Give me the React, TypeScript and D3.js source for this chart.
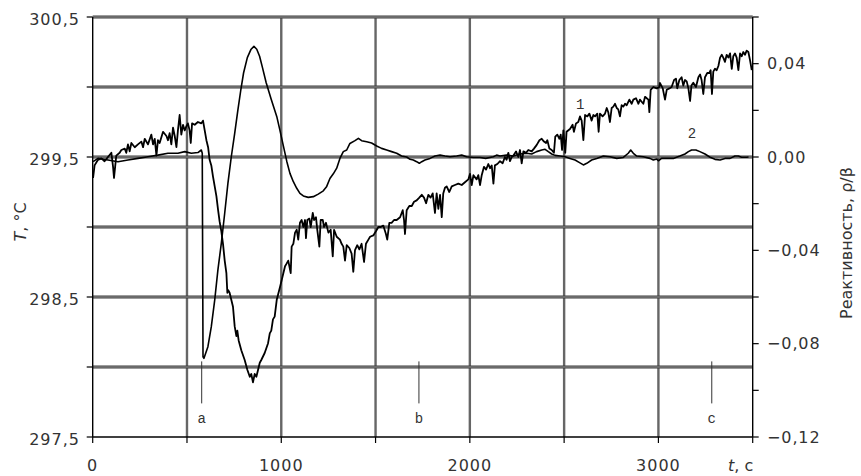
import React from "react";
import * as d3 from "d3";

// Curve 1: temperature T (°C) vs time t (s)
const curve1: [number, number][] = [
[2,299.35],[10,299.44],[28,299.48],[46,299.49],[63,299.47],[81,299.50],[99,299.53],[108,299.43],[113,299.35],[125,299.51],[143,299.53],[152,299.55],[170,299.56],[178,299.53],[187,299.59],[196,299.54],[205,299.60],[223,299.57],[240,299.59],[258,299.61],[267,299.57],[276,299.63],[293,299.59],[311,299.66],[320,299.59],[329,299.63],[338,299.51],[346,299.62],[355,299.60],[373,299.68],[391,299.65],[399,299.62],[408,299.67],[417,299.59],[426,299.71],[435,299.65],[444,299.57],[452,299.69],[461,299.80],[470,299.66],[479,299.73],[488,299.69],[497,299.72],[505,299.74],[514,299.69],[520,299.60],[527,299.74],[541,299.73],[558,299.75],[576,299.74],[585,299.76],[594,299.69],[603,299.62],[612,299.57],[620,299.48],[629,299.44],[638,299.36],[647,299.29],[656,299.22],[665,299.12],[673,299.04],[682,298.97],[691,298.88],[700,298.76],[709,298.67],[714,298.53],[718,298.55],[726,298.53],[735,298.48],[744,298.43],[753,298.29],[762,298.22],[767,298.26],[774,298.19],[788,298.12],[806,298.05],[820,297.98],[833,297.93],[841,297.95],[850,297.89],[859,297.95],[868,297.93],[877,297.98],[886,298.03],[894,298.05],[912,298.10],[930,298.17],[939,298.24],[947,298.26],[956,298.34],[965,298.36],[976,298.48],[993,298.57],[1011,298.67],[1020,298.72],[1029,298.74],[1037,298.76],[1050,298.67],[1055,298.86],[1064,298.88],[1073,298.96],[1082,298.98],[1090,298.91],[1099,299.03],[1108,299.05],[1117,299.00],[1126,299.05],[1131,298.92],[1138,299.05],[1149,299.06],[1156,299.00],[1167,299.10],[1174,299.05],[1184,299.07],[1191,298.98],[1202,298.86],[1209,299.05],[1220,299.05],[1227,299.00],[1237,299.03],[1250,298.96],[1262,298.98],[1273,298.79],[1280,298.98],[1294,298.93],[1311,298.91],[1320,298.88],[1329,298.86],[1338,298.76],[1347,298.87],[1361,298.85],[1373,298.81],[1382,298.68],[1391,298.835],[1403,298.87],[1414,298.84],[1426,298.88],[1439,298.75],[1449,298.88],[1462,298.91],[1471,298.93],[1488,298.94],[1502,298.97],[1515,299.00],[1527,299.00],[1541,299.01],[1555,298.95],[1562,298.91],[1573,299.03],[1585,299.03],[1598,299.05],[1612,299.05],[1630,299.07],[1644,299.12],[1651,299.05],[1656,298.95],[1665,299.12],[1679,299.15],[1692,299.15],[1704,299.18],[1718,299.19],[1732,299.21],[1745,299.23],[1757,299.21],[1768,299.17],[1780,299.23],[1792,299.21],[1803,299.24],[1815,299.10],[1824,299.24],[1833,299.13],[1842,299.23],[1851,299.07],[1859,299.24],[1868,299.28],[1877,299.29],[1891,299.25],[1904,299.29],[1921,299.30],[1939,299.31],[1957,299.30],[1974,299.32],[1992,299.34],[2001,299.38],[2010,299.30],[2019,299.37],[2036,299.34],[2045,299.37],[2054,299.30],[2063,299.37],[2075,299.43],[2086,299.41],[2098,299.45],[2107,299.42],[2116,299.44],[2125,299.31],[2133,299.44],[2146,299.45],[2160,299.47],[2174,299.455],[2186,299.50],[2195,299.48],[2204,299.53],[2213,299.47],[2222,299.50],[2231,299.51],[2245,299.54],[2257,299.50],[2266,299.55],[2275,299.455],[2284,299.54],[2298,299.53],[2310,299.55],[2328,299.54],[2340,299.56],[2354,299.585],[2369,299.62],[2381,299.63],[2393,299.61],[2404,299.60],[2411,299.62],[2422,299.56],[2434,299.55],[2446,299.53],[2453,299.645],[2464,299.66],[2475,299.63],[2482,299.66],[2489,299.55],[2496,299.69],[2506,299.53],[2513,299.68],[2531,299.70],[2545,299.73],[2552,299.68],[2563,299.74],[2575,299.75],[2584,299.79],[2593,299.76],[2602,299.62],[2611,299.80],[2623,299.79],[2634,299.81],[2646,299.76],[2655,299.80],[2664,299.79],[2676,299.81],[2683,299.68],[2690,299.81],[2704,299.79],[2717,299.81],[2726,299.85],[2734,299.82],[2743,299.75],[2752,299.85],[2761,299.86],[2770,299.88],[2779,299.85],[2787,299.84],[2796,299.79],[2805,299.87],[2814,299.86],[2823,299.88],[2832,299.87],[2846,299.91],[2858,299.88],[2867,299.91],[2881,299.92],[2894,299.88],[2902,299.91],[2911,299.895],[2920,299.88],[2929,299.93],[2938,299.92],[2947,299.91],[2952,299.82],[2959,299.98],[2973,300.00],[2991,299.99],[3005,300.00],[3008,300.03],[3023,299.99],[3035,299.91],[3044,299.98],[3058,299.99],[3070,300.00],[3083,300.05],[3093,300.06],[3100,299.99],[3111,300.05],[3123,300.07],[3132,300.01],[3141,300.05],[3150,300.04],[3159,299.99],[3168,299.90],[3175,300.01],[3185,300.03],[3199,300.00],[3212,300.07],[3221,300.09],[3229,300.05],[3238,299.95],[3247,300.07],[3259,300.10],[3270,300.10],[3277,300.12],[3284,299.95],[3291,300.11],[3300,300.13],[3309,300.12],[3318,300.15],[3327,300.21],[3336,300.23],[3344,300.21],[3353,300.18],[3362,300.23],[3371,300.21],[3380,300.24],[3389,300.13],[3397,300.22],[3406,300.24],[3415,300.21],[3424,300.12],[3433,300.24],[3442,300.22],[3450,300.25],[3459,300.23],[3468,300.26],[3477,300.25],[3486,300.19],[3495,300.12]
];

// Curve 2: reactivity rho/beta vs time t (s)
const curve2: [number, number][] = [
[2,-0.002],[28,-0.0006],[81,-0.0013],[134,-0.002],[187,-0.0013],[240,-0.0006],[293,0.0001],[346,0.0008],[399,0.0016],[452,0.0016],[488,0.0023],[523,0.0016],[558,0.0019],[576,0.003],[581,0.0016],[585,-0.0856],[590,-0.0863],[611,-0.0813],[629,-0.0727],[647,-0.0613],[664,-0.0484],[682,-0.037],[700,-0.0241],[717,-0.0113],[735,0.0001],[753,0.0101],[770,0.0202],[785,0.0285],[800,0.036],[820,0.0426],[840,0.0462],[855,0.0474],[870,0.0462],[885,0.0432],[900,0.0384],[920,0.0318],[947,0.0246],[976,0.0174],[993,0.0114],[1011,0.0048],[1029,-0.0018],[1046,-0.007],[1064,-0.0106],[1082,-0.0134],[1099,-0.0156],[1117,-0.0167],[1143,-0.0173],[1170,-0.017],[1196,-0.0159],[1223,-0.0145],[1241,-0.0126],[1258,-0.0092],[1276,-0.0072],[1294,-0.0048],[1311,-0.0006],[1329,0.0023],[1347,0.003],[1364,0.0058],[1391,0.007],[1409,0.008],[1426,0.007],[1453,0.0065],[1479,0.006],[1506,0.0047],[1532,0.0037],[1559,0.003],[1585,0.0023],[1612,0.0016],[1638,0.0004],[1665,0],[1683,-0.001],[1700,-0.0013],[1718,-0.002],[1732,-0.0027],[1745,-0.002],[1762,-0.0013],[1789,-0.0006],[1815,0.0004],[1842,0.0008],[1868,0.0004],[1895,0.0001],[1930,0.0004],[1957,0.0008],[1983,0.0001],[2019,-0.0002],[2054,-0.0002],[2084,-0.0006],[2125,0.0001],[2142,0.0008],[2160,0.0004],[2195,0.0008],[2231,0.0004],[2266,0.0013],[2301,0.0016],[2328,0.0013],[2354,0.0023],[2381,0.003],[2399,0.0033],[2416,0.0023],[2434,0.0013],[2452,0.0007],[2478,0.0004],[2505,0.0001],[2531,-0.0006],[2558,-0.0013],[2584,-0.0025],[2602,-0.0034],[2620,-0.0027],[2646,-0.0013],[2673,-0.0006],[2708,0.0004],[2743,0.0001],[2779,-0.0006],[2814,-0.0002],[2840,0.0016],[2853,0.003],[2867,0.0016],[2885,0.0004],[2920,0.0001],[2955,-0.0006],[2973,-0.0013],[2991,-0.0009],[3000,-0.0016],[3017,-0.0006],[3044,-0.0006],[3079,-0.0006],[3114,0.0004],[3141,0.0013],[3159,0.0023],[3176,0.003],[3199,0.003],[3220,0.0023],[3247,0.0013],[3274,-0.0001],[3300,-0.001],[3327,-0.0013],[3353,-0.0006],[3380,-0.0006],[3406,0.0004],[3424,0.0004],[3441,-0.0001],[3468,-0.0001],[3478,0]
];

const timeTicks = [0, 500, 1000, 1500, 2000, 2500, 3000, 3500];
const timeLabels = [0, 1000, 2000, 3000];
const tempTicks = [297.5, 298, 298.5, 299, 299.5, 300, 300.5];
const tempLabels = [297.5, 298.5, 299.5, 300.5];
const rhoTicks = [-0.12, -0.1, -0.08, -0.06, -0.04, -0.02, 0, 0.02, 0.04, 0.06];
const rhoLabels = [-0.12, -0.08, -0.04, 0, 0.04];
const markers = [
  { t: 578, label: "a" },
  { t: 1730, label: "b" },
  { t: 3283, label: "c" },
];
const markerTop = 298.04;
const markerBottom = 297.74;
const curveLabels = [
  { t: 2585, T: 299.88, label: "1" },
  { t: 3178, T: 299.67, label: "2" },
];

const W = 861, H = 476;
const L = 92.7, R = 752.7, TOP = 17, BOT = 437;

const x = d3.scaleLinear().domain([0, 3500]).range([L, R]);
const yT = d3.scaleLinear().domain([297.5, 300.5]).range([BOT, TOP]);
const yR = d3.scaleLinear().domain([-0.12, 0.06]).range([BOT, TOP]);

const fmtT = (v: number) => d3.format(".1f")(v).replace(".", ",");
const fmtR = (v: number) => {
  const s = Math.abs(v).toFixed(2).replace(".", ",");
  return v < -1e-9 ? "\u2212" + s : s;
};

const sans = "'DejaVu Sans', sans-serif";
const mono = "'Liberation Mono', 'Courier New', monospace";

export default function App() {
  const line1 = d3.line<[number, number]>().x(d => x(d[0])).y(d => yT(d[1]))(curve1) || "";
  const line2 = d3.line<[number, number]>().x(d => x(d[0])).y(d => yR(d[1]))(curve2) || "";
  const hGrid = tempTicks.filter(v => v > 297.5);
  const vGrid = timeTicks.filter(v => v > 0 && v < 3500);
  return (
    <svg width={W} height={H} style={{ position: "absolute", left: 0, top: 0, background: "#fff" }}>
      {/* vertical grid */}
      {vGrid.map(v => (
        <line key={"v" + v} x1={x(v)} x2={x(v)} y1={TOP} y2={BOT} stroke="#666" strokeWidth={2.4} />
      ))}
      {/* horizontal grid (double band) */}
      {hGrid.map(v => (
        <g key={"h" + v}>
          <line x1={L} x2={R} y1={yT(v)} y2={yT(v)} stroke="#3a3a3a" strokeWidth={3} />
          <line x1={L} x2={R} y1={yT(v)} y2={yT(v)} stroke="#9a9a9a" strokeWidth={1} />
        </g>
      ))}
      {/* frame */}
      <line x1={L} x2={L} y1={TOP} y2={BOT} stroke="#000" strokeWidth={1.4} />
      <line x1={R} x2={R} y1={TOP} y2={BOT} stroke="#000" strokeWidth={1.4} />
      <line x1={L} x2={R} y1={BOT} y2={BOT} stroke="#000" strokeWidth={1.6} />
      {/* ticks */}
      {tempTicks.map(v => (
        <line key={"lt" + v} x1={L - 6} x2={L} y1={yT(v)} y2={yT(v)} stroke="#000" strokeWidth={1.2} />
      ))}
      {rhoTicks.map(v => (
        <line key={"rt" + v} x1={R} x2={R + 6} y1={yR(v)} y2={yR(v)} stroke="#000" strokeWidth={1.2} />
      ))}
      {timeTicks.map(v => (
        <line key={"bt" + v} x1={x(v)} x2={x(v)} y1={BOT} y2={BOT + 6} stroke="#000" strokeWidth={1.2} />
      ))}
      {/* tick labels */}
      {tempLabels.map(v => (
        <text key={"ll" + v} x={80} y={yT(v) + 2} dy="0.36em" textAnchor="end" fontFamily={sans} fontSize={16} letterSpacing={1} fill="#333">{fmtT(v)}</text>
      ))}
      {rhoLabels.map(v => (
        <text key={"rl" + v} x={767} y={yR(v)} dy="0.36em" textAnchor="start" fontFamily={sans} fontSize={16} letterSpacing={0.9} fill="#333">{fmtR(v)}</text>
      ))}
      {timeLabels.map(v => (
        <text key={"bl" + v} x={x(v)} y={471} textAnchor="middle" fontFamily={sans} fontSize={16} letterSpacing={1} fill="#333">{String(v)}</text>
      ))}
      <text x={728} y={471} fontFamily={sans} fontSize={16} fill="#333"><tspan fontStyle="italic">t</tspan>, с</text>
      {/* axis titles */}
      <text transform="translate(26,222) rotate(-90)" textAnchor="middle" fontFamily={sans} fontSize={16} fill="#333"><tspan fontStyle="italic">T</tspan>, °C</text>
      <text transform="translate(852,243) rotate(-90)" textAnchor="middle" fontFamily={sans} fontSize={16} fill="#333">Реактивность, ρ/β</text>
      {/* markers */}
      {markers.map(m => (
        <g key={m.label}>
          <line x1={x(m.t)} x2={x(m.t)} y1={yT(markerTop)} y2={yT(markerBottom)} stroke="#333" strokeWidth={1} />
          <text x={x(m.t)} y={423} textAnchor="middle" fontFamily={mono} fontSize={14} fill="#333">{m.label}</text>
        </g>
      ))}
      {curveLabels.map(c => (
        <text key={c.label} x={x(c.t)} y={yT(c.T)} dy="0.36em" textAnchor="middle" fontFamily={mono} fontSize={14} fill="#333">{c.label}</text>
      ))}
      {/* curves */}
      <path d={line2} fill="none" stroke="#000" strokeWidth={1.6} strokeLinejoin="round" />
      <path d={line1} fill="none" stroke="#000" strokeWidth={1.8} strokeLinejoin="round" />
    </svg>
  );
}
